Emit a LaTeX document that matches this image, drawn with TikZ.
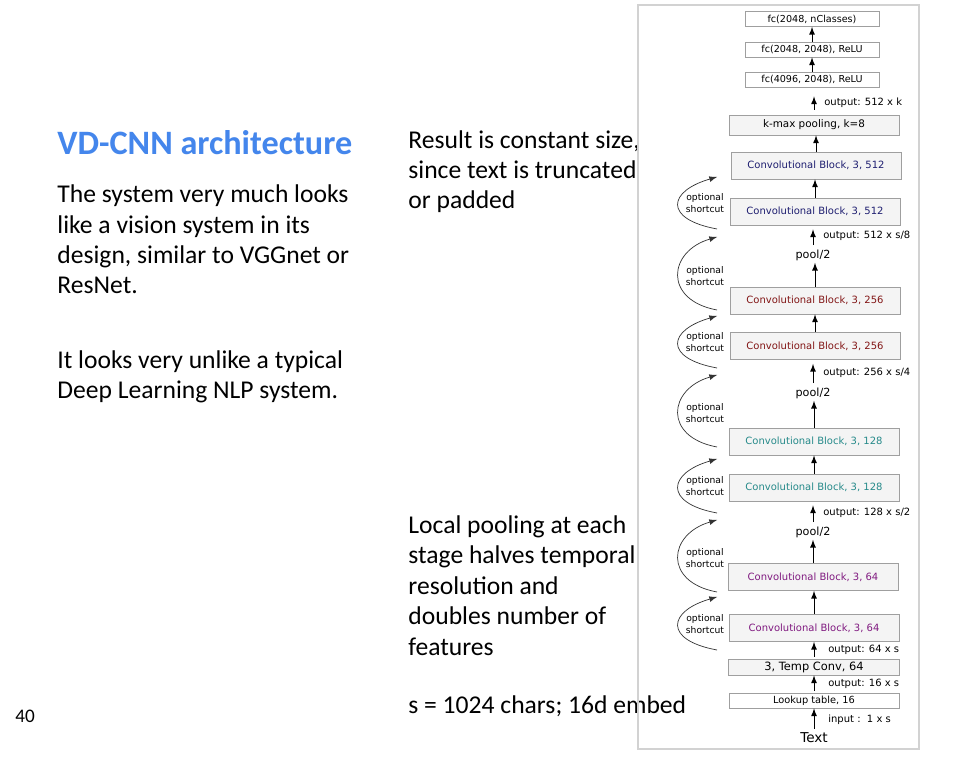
\documentclass[tikz,border=0pt]{standalone}
\usepackage{fontspec}
\setmainfont{Carlito}
\newfontfamily\diagfont{DejaVu Sans}
\usepackage{xcolor}
\usetikzlibrary{arrows,positioning}

\definecolor{titleblue}{RGB}{68,134,236}
\definecolor{blk512}{RGB}{30,30,112}
\definecolor{blk256}{RGB}{130,22,22}
\definecolor{blk128}{RGB}{38,138,138}
\definecolor{blk64}{RGB}{128,26,128}

\tikzset{
  body/.style={font=\fontsize{12.8pt}{15.2pt}\selectfont, align=left, inner sep=0pt, anchor=base west},
  layer/.style={draw=gray!75, fill=gray!9, inner sep=0pt, minimum width=85pt,
    font=\diagfont\fontsize{5pt}{6pt}\selectfont},
  fclayer/.style={layer, fill=white, minimum width=67pt, minimum height=7.5pt, font=\diagfont\fontsize{4.8pt}{6pt}\selectfont},
  convblock/.style={layer, minimum height=13.5pt},
  flow/.style={->, >=latex, line width=0.35pt},
  outlbl/.style={font=\diagfont\fontsize{5pt}{6pt}\selectfont, inner sep=0pt, anchor=west},
  poollbl/.style={font=\diagfont\fontsize{5.6pt}{6pt}\selectfont, inner sep=1pt},
  shortcut/.style={->, >=latex, line width=0.35pt, draw=black!80},
  sclbl/.style={font=\diagfont\fontsize{4.6pt}{5.6pt}\selectfont, align=center, inner sep=0pt}
}

\begin{document}
\begin{tikzpicture}[x=0.5pt, y=-0.5pt]
  \useasboundingbox[fill=white] (0,0) rectangle (969,758);

  % Texte de gauche (base = derniere ligne)
  \node[body, font=\fontsize{17.1pt}{18pt}\selectfont\bfseries, text=titleblue] (title) at (57,155) {VD-CNN architecture};
  \node[body] (intro) at (57,294) {The system very much looks\\like a vision system in its\\design, similar to VGGnet or\\ResNet.};
  \node[body] (unlike) at (57,399) {It looks very unlike a typical\\Deep Learning NLP system.};
  \node[body, font=\fontsize{9.6pt}{11pt}\selectfont] (pagenum) at (15,722) {40};

  % Texte du milieu
  \node[body] (result) at (408,209) {Result is constant size,\\since text is truncated\\or padded};
  \node[body] (local) at (408,655) {Local pooling at each\\stage halves temporal\\resolution and\\doubles number of\\features};
  \node[body] (chars) at (408,713) {s = 1024 chars; 16d embed};

  % Cadre du schema
  \draw[gray!35, line width=0.8pt] (638,5) rectangle (919,749);

  % Couches du reseau
  \node[fclayer] (fcout) at (812,19) {fc(2048, nClasses)};
  \node[fclayer] (fcb) at (812,49.5) {fc(2048, 2048), ReLU};
  \node[fclayer] (fca) at (812,79.5) {fc(4096, 2048), ReLU};
  \node[layer, minimum height=10pt, font=\diagfont\fontsize{5.2pt}{6pt}\selectfont] (kmax) at (814,125) {k-max pooling, k=8};
  \node[convblock, text=blk512] (c512b) at (816,165.5) {Convolutional Block, 3, 512};
  \node[convblock, text=blk512] (c512a) at (815,211.5) {Convolutional Block, 3, 512};
  \node[poollbl] (p3) at (813,255) {pool/2};
  \node[convblock, text=blk256] (c256b) at (815,300.5) {Convolutional Block, 3, 256};
  \node[convblock, text=blk256] (c256a) at (815,346) {Convolutional Block, 3, 256};
  \node[poollbl] (p2) at (813,393) {pool/2};
  \node[convblock, text=blk128] (c128b) at (814,441.5) {Convolutional Block, 3, 128};
  \node[convblock, text=blk128] (c128a) at (814,487.5) {Convolutional Block, 3, 128};
  \node[poollbl] (p1) at (813,532) {pool/2};
  \node[convblock, text=blk64] (c64b) at (813,577) {Convolutional Block, 3, 64};
  \node[convblock, text=blk64] (c64a) at (814,628) {Convolutional Block, 3, 64};
  \node[layer, minimum height=8pt, minimum width=85.5pt, font=\diagfont\fontsize{5.7pt}{6pt}\selectfont] (tconv) at (814,667) {3, Temp Conv, 64};
  \node[layer, fill=white, minimum height=7.5pt, font=\diagfont\fontsize{4.9pt}{6pt}\selectfont] (lookup) at (814,700.5) {Lookup table, 16};
  \node[inner sep=1pt, font=\diagfont\fontsize{6.8pt}{8pt}\selectfont] (txt) at (814,738) {Text};

  % Fleches simples
  \foreach \a/\b in {fcb/fcout, fca/fcb, c512b/kmax, c512a/c512b, c256b/p3,
                     c256a/c256b, c128b/p2, c128a/c128b, c64b/p1, c64a/c64b} {
    \draw[flow] (\a.north) -- (\a.north |- \b.south);
  }

  % Fleches avec la taille de sortie
  \draw[flow, shorten <=5pt/2, shorten >=9pt/2] (kmax.north) -- (kmax.north |- fca.south)
    node[outlbl, pos=0.45, xshift=5pt] (o1) {output: 512 x k};
  \draw[flow, shorten <=1pt, shorten >=2pt] (p3.north) -- (p3.north |- c512a.south)
    node[outlbl, midway, xshift=5pt] (o2) {output: 512 x s/8};
  \draw[flow, shorten <=1pt, shorten >=2pt] (p2.north) -- (p2.north |- c256a.south)
    node[outlbl, midway, xshift=5pt] (o3) {output: 256 x s/4};
  \draw[flow, shorten <=1pt, shorten >=2pt] (p1.north) -- (p1.north |- c128a.south)
    node[outlbl, midway, xshift=5pt] (o4) {output: 128 x s/2};
  \draw[flow, shorten <=1pt] (tconv.north) -- (tconv.north |- c64a.south)
    node[outlbl, midway, xshift=7pt] (o5) {output: 64 x s};
  \draw[flow, shorten <=1pt] (lookup.north) -- (lookup.north |- tconv.south)
    node[outlbl, midway, xshift=7pt] (o6) {output: 16 x s};
  \draw[flow, shorten <=1pt] (txt.north) -- (txt.north |- lookup.south)
    node[outlbl, midway, xshift=7pt] (o7) {input :\ \ 1 x s};

  % Raccourcis optionnels
  \foreach \yb/\yt/\yl [count=\i] in {229/177/203, 310/237/276, 368/316/342, 447/375/413,
                                      513/459/486, 592/520/558, 650/597/624} {
    \draw[shortcut] (717,\yb) .. controls (663,\yb-10) and (668,\yt+14) .. (717,\yt);
    \node[sclbl] (sc\i) at (705,\yl) {optional\\shortcut};
  }

\end{tikzpicture}
\end{document}
